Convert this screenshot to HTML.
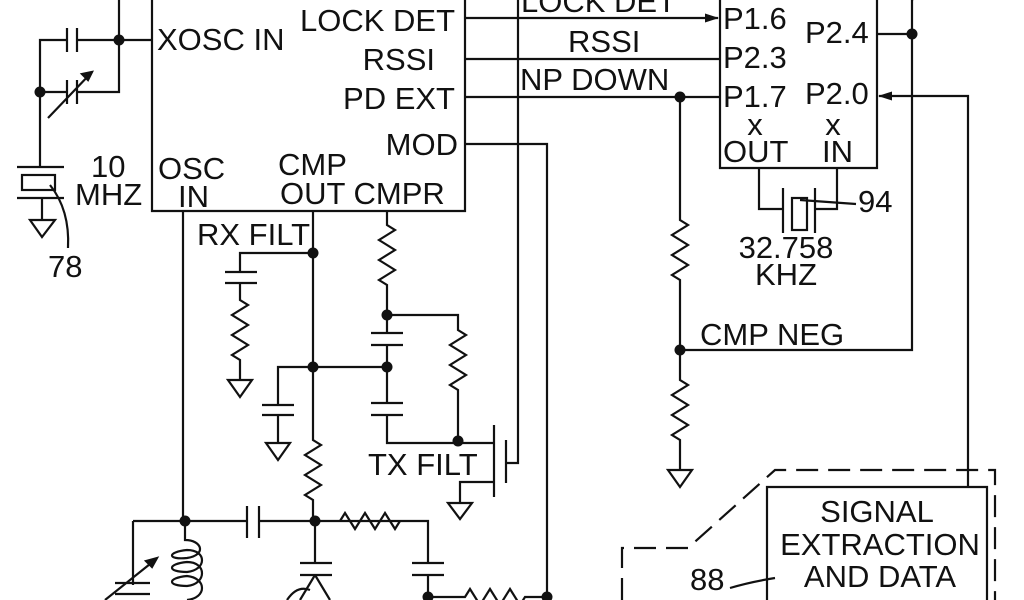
<!DOCTYPE html>
<html><head><meta charset="utf-8"><style>
html,body{margin:0;padding:0;background:#fff}
svg{display:block}
text{font-family:"Liberation Sans",sans-serif;font-size:31px;fill:#111}
</style></head><body>
<svg width="1024" height="600" viewBox="0 0 1024 600" xmlns="http://www.w3.org/2000/svg">
<defs>
<marker id="ar" markerWidth="14" markerHeight="9" refX="13" refY="4.5" orient="auto" markerUnits="userSpaceOnUse"><path d="M0,0 L14,4.5 L0,9 Z" fill="#111"/></marker>
</defs>
<g stroke="#111" stroke-width="2.2" fill="none">
<!-- main IC -->
<path d="M152,0 V211 H465 V0"/>
<!-- right IC -->
<path d="M720,0 V168 H877 V0"/>
<!-- signal lines -->
<path d="M465,18 H718" marker-end="url(#ar)"/>
<path d="M465,59 H720"/>
<path d="M465,97 H720"/>
<path d="M465,144 H547 V597"/>
<path d="M518,0 V463 H506"/>
<!-- P2.4 -->
<path d="M877,34 H912 M912,0 L920,-8 M912,0 V350 H680"/>
<!-- P2.0 -->
<path d="M968,487 V96 H879" marker-end="url(#ar)"/>
<!-- NP down branch -->
<path d="M680,97 V220 l8,5 l-16,10 l16,10 l-16,10 l16,10 l-16,10 l8,5 V380 l8,5 l-16,10 l16,10 l-16,10 l16,10 l-16,10 l8,5 V470"/>
<path d="M668,470 H692 L680,487 Z"/>
<!-- crystal 94 -->
<path d="M759,168 V209 H783 M837,168 V209 H815 M783,188 V233 M815,188 V233"/>
<rect x="792" y="198" width="15" height="32"/>
<path d="M800,200 L856,204"/>
<!-- left oscillator -->
<path d="M119,0 V92 H77 M119,40 H152 M119,40 H77 M67,40 H40 V167 M67,28 V52 M77,28 V52 M67,80 V104 M77,80 V104 M40,92 H67 M48,118 L92,72"/>
<path d="M92,72 l-10,2 l6,6 Z" fill="#111"/>
<path d="M17,167 H64 M17,198 H64"/>
<rect x="22" y="175" width="33" height="15"/>
<path d="M42,198 V220 M30,220 H55 L42,237 Z"/>
<path d="M50,185 Q70,210 68,248"/>
<!-- below main box -->
<path d="M183,211 V520 M313,211 V440 l8,5 l-16,10 l16,10 l-16,10 l16,10 l-16,10 l8,5 V520"/>
<path d="M313,253 H240 V272 M225,272 H257 M225,283 H257 M240,283 V300 l8,5 l-16,10 l16,10 l-16,10 l16,10 l-16,10 l8,5 V380 M228,380 H252 L240,397 Z"/>
<path d="M387,211 V225 l8,5 l-16,10 l16,10 l-16,10 l16,10 l-16,10 l8,5 V333 M371,333 H403 M371,345 H403 M387,345 V403 M371,403 H403 M371,415 H403 M387,415 V443 H494"/>
<path d="M387,315 H458 V330 l8,5 l-16,10 l16,10 l-16,10 l16,10 l-16,10 l8,5 V443"/>
<path d="M387,367 H278 V405 M262,405 H294 M262,415 H294 M278,415 V443 M266,443 H290 L278,460 Z"/>
<!-- FET -->
<path d="M494,425 V497 M506,440 V483 M494,482 H460 V503 M448,503 H472 L460,519 Z"/>
<!-- bottom -->
<path d="M133,521 H247 M259,521 H428 V563 M247,506 V538 M259,506 V538"/>
<path d="M340,521 l5,-8 l10,16 l10,-16 l10,16 l10,-16 l10,16 l5,-8"/>
<path d="M412,563 H444 M412,575 H444 M428,575 V597 H465 l5,-8 l10,16 l10,-16 l10,16 l10,-16 l10,16 l5,-8 H547"/>
<path d="M133,521 V585 M115,583 H150 M115,594 H150 M105,600 L155,560"/>
<path d="M157,558 l-11,3 l6,6 Z" fill="#111"/>
<path d="M185,521 V540 C202,540 207,555 187,558 C167,560 167,552 187,550 C207,550 207,570 187,572 C167,572 167,564 187,562 C207,562 207,584 187,586 C167,586 167,578 187,576 C207,578 207,598 187,600"/>
<path d="M315,521 V563 M300,563 H332 M300,575 H332 M315,575 L300,600 M315,575 L330,600 M287,600 Q297,585 310,590"/>
<!-- signal box -->
<path d="M767,600 V487 H987 V600"/>
<path d="M622,600 V548 H688 L775,470 H995 V600" stroke-dasharray="22,10"/>
<path d="M730,588 Q750,582 775,578"/>
</g>
<g fill="#111">
<circle cx="119" cy="40" r="5.5"/><circle cx="40" cy="92" r="5.5"/>
<circle cx="680" cy="97" r="5.5"/><circle cx="912" cy="34" r="5.5"/><circle cx="680" cy="350" r="5.5"/>
<circle cx="313" cy="253" r="5.5"/><circle cx="387" cy="315" r="5.5"/><circle cx="313" cy="367" r="5.5"/><circle cx="387" cy="367" r="5.5"/>
<circle cx="458" cy="441" r="5.5"/><circle cx="185" cy="521" r="5.5"/><circle cx="315" cy="521" r="5.5"/>
<circle cx="428" cy="597" r="5.5"/><circle cx="547" cy="597" r="5.5"/>
</g>
<text x="157" y="50">XOSC IN</text>
<text x="455" y="31" text-anchor="end">LOCK DET</text>
<text x="435" y="70" text-anchor="end">RSSI</text>
<text x="455" y="109" text-anchor="end">PD EXT</text>
<text x="458" y="155" text-anchor="end">MOD</text>
<text x="158" y="179">OSC</text>
<text x="178" y="207">IN</text>
<text x="278" y="175">CMP</text>
<text x="280" y="204">OUT CMPR</text>
<text x="91" y="177">10</text>
<text x="75" y="205">MHZ</text>
<text x="48" y="277">78</text>
<text x="197" y="245">RX FILT</text>
<text x="368" y="475">TX FILT</text>
<text x="521" y="12">LOCK DET</text>
<text x="568" y="52">RSSI</text>
<text x="520" y="90">NP DOWN</text>
<text x="723" y="29">P1.6</text>
<text x="805" y="43">P2.4</text>
<text x="723" y="68">P2.3</text>
<text x="723" y="107">P1.7</text>
<text x="805" y="104">P2.0</text>
<text x="755" y="135" text-anchor="middle">x</text>
<text x="833" y="135" text-anchor="middle">x</text>
<text x="723" y="162">OUT</text>
<text x="822" y="162">IN</text>
<text x="858" y="212">94</text>
<text x="786" y="258" text-anchor="middle">32.758</text>
<text x="786" y="285" text-anchor="middle">KHZ</text>
<text x="700" y="345">CMP NEG</text>
<text x="877" y="522" text-anchor="middle">SIGNAL</text>
<text x="880" y="555" text-anchor="middle">EXTRACTION</text>
<text x="880" y="587" text-anchor="middle">AND DATA</text>
<text x="690" y="590">88</text>
</svg>
</body></html>
